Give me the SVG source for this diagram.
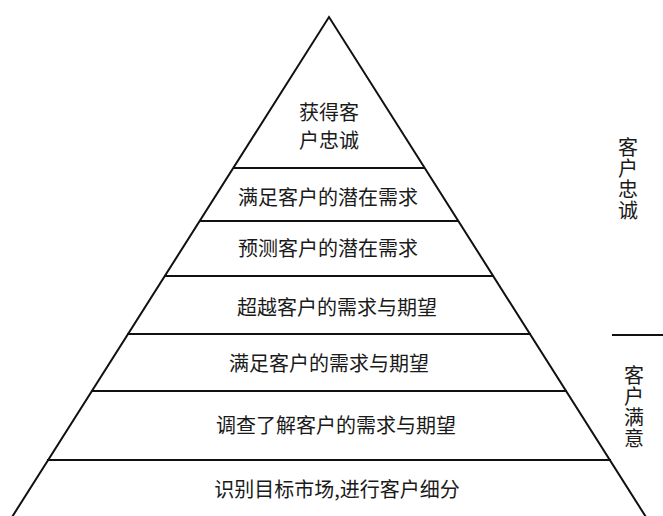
<svg xmlns="http://www.w3.org/2000/svg" width="663" height="516" viewBox="0 0 663 516">
<style>
.ln{stroke:#111;stroke-width:2;fill:none}
.t{font-family:"Noto Sans CJK SC","Noto Sans CJK JP",sans-serif;font-size:20px;fill:#1a1a1a;text-anchor:middle;dominant-baseline:central}
.v{writing-mode:vertical-rl;letter-spacing:1px}
</style>
<rect width="663" height="516" fill="#fff"/>
<g id="connectors">
<polyline class="ln" points="9.5,521 329,17 648.5,521"/>
<line class="ln" x1="233" y1="168" x2="425" y2="168"/>
<line class="ln" x1="199" y1="221" x2="459" y2="221"/>
<line class="ln" x1="164" y1="276" x2="494" y2="276"/>
<line class="ln" x1="127" y1="334" x2="531" y2="334"/>
<line class="ln" x1="91" y1="391" x2="567" y2="391"/>
<line class="ln" x1="47" y1="460" x2="611" y2="460"/>
<line class="ln" x1="612" y1="335" x2="663" y2="335"/>
</g>
<g id="layer1"><text class="t" x="329" y="111">获得客</text><text class="t" x="329" y="139">户忠诚</text></g>
<g id="layer2"><text class="t" x="328" y="196">满足客户的潜在需求</text></g>
<g id="layer3"><text class="t" x="328" y="247">预测客户的潜在需求</text></g>
<g id="layer4"><text class="t" x="337" y="306">超越客户的需求与期望</text></g>
<g id="layer5"><text class="t" x="329" y="362">满足客户的需求与期望</text></g>
<g id="layer6"><text class="t" x="336" y="424">调查了解客户的需求与期望</text></g>
<g id="layer7"><text class="t" x="337" y="488">识别目标市场,进行客户细分</text></g>
<g id="side-loyalty"><text class="t v" x="628" y="179">客户忠诚</text></g>
<g id="side-satisfaction"><text class="t v" x="634" y="407">客户满意</text></g>
</svg>
